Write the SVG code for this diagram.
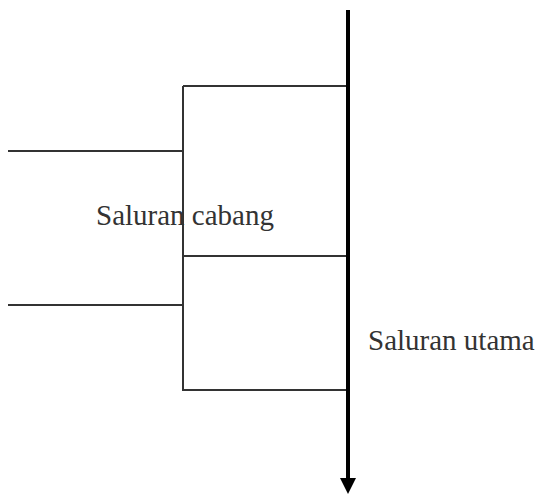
<svg xmlns="http://www.w3.org/2000/svg" width="537" height="496" viewBox="0 0 537 496">
<style>
.thin{stroke:#333;stroke-width:2;fill:none}
.lbl{font-family:"Liberation Serif",serif;font-size:29px;fill:#333}
</style>
<rect width="537" height="496" fill="#fff"/>
<g id="connectors">
<path class="thin" d="M8,151 H183 M8,305 H183 M183,86 V391 M183,86 H347 M183,256 H347 M183,390 H347"/>
<line x1="348" y1="10" x2="348" y2="478" stroke="#000" stroke-width="4"/>
<path d="M340,478 L356,478 L348,494 Z" fill="#000"/>
</g>
<g id="label-cabang"><text class="lbl" x="96" y="225">Saluran cabang</text></g>
<g id="label-utama"><text class="lbl" x="368" y="350">Saluran utama</text></g>
</svg>
